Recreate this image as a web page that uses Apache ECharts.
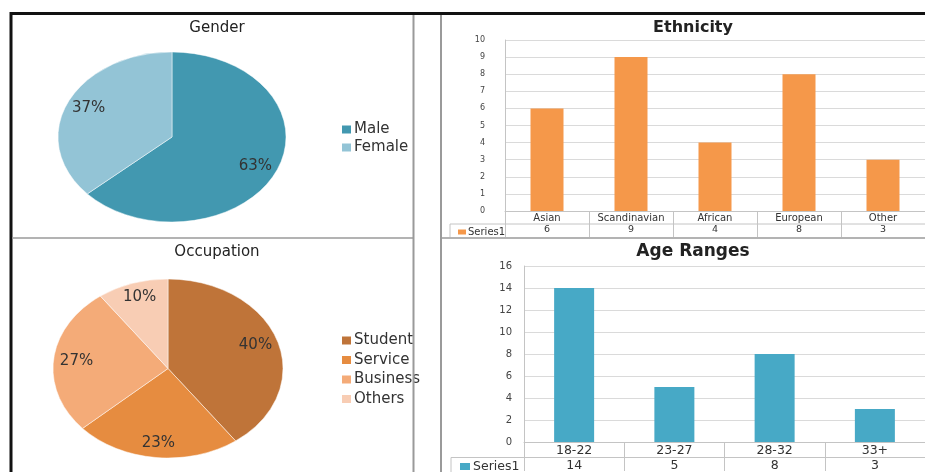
<!DOCTYPE html>
<html><head><meta charset="utf-8">
<script src="https://cdn.jsdelivr.net/npm/echarts@6/dist/echarts.min.js"></script>
<style>html,body{margin:0;padding:0;background:#fff}#c{width:925px;height:472px}</style>
</head><body><div id="c"></div>
<script>
const genderNames = ['Male', 'Female'];
const genderValues = [19, 11];
const genderColors = ['#4298B0', '#93C4D6'];
const occNames = ['Student', 'Service', 'Business', 'Others'];
const occValues = [12, 7, 8, 3];
const occColors = ['#BF7439', '#E68C40', '#F4AB78', '#F8CDB4'];
const ethCats = ['Asian', 'Scandinavian', 'African', 'European', 'Other'];
const ethValues = [6, 9, 4, 8, 3];
const ageCats = ['18-22', '23-27', '28-32', '33+'];
const ageValues = [14, 5, 8, 3];
const seriesName = 'Series1';
const FONT = 'DejaVu Sans';

function ellipsePie(name, names, values, colors, geo) {
  const total = values.reduce((a, b) => a + b, 0);
  return {
    type: 'custom', name: name, coordinateSystem: 'none', silent: true,
    data: values.map((v, i) => ({ name: names[i], value: v })),
    renderItem: function (params, api) {
      const i = params.dataIndex;
      let cum = 0;
      for (let j = 0; j < i; j++) cum += values[j];
      const v = api.value(0);
      const a0 = -Math.PI / 2 + 2 * Math.PI * cum / total;
      const a1 = a0 + 2 * Math.PI * v / total;
      const mid = (a0 + a1) / 2;
      const k = geo.ry / geo.rx;
      return {
        type: 'group', children: [
          { type: 'sector', x: geo.cx, y: geo.cy, scaleY: k,
            shape: { cx: 0, cy: 0, r0: 0, r: geo.rx, startAngle: a0, endAngle: a1, clockwise: true },
            style: { fill: colors[i], stroke: 'rgba(255,255,255,0.7)', lineWidth: 0.8, strokeNoScale: true } },
          { type: 'text', x: geo.cx + 0.8 * geo.rx * Math.cos(mid), y: geo.cy + 0.84 * geo.ry * Math.sin(mid),
            z2: 10,
            style: { text: Math.round(v / total * 100) + '%', align: 'center', verticalAlign: 'middle',
              fontSize: 15, fontFamily: FONT, fill: '#333' } }
        ]
      };
    }
  };
}

function legendPie(names, colors, center) {
  return {
    type: 'pie', radius: [0, 0], center: center, silent: true,
    label: { show: false }, labelLine: { show: false },
    data: names.map((n, i) => ({ name: n, value: 1, itemStyle: { color: colors[i] } }))
  };
}

const chart = echarts.init(document.getElementById('c'));
const gridLine = '#dadada';
const tickCol = '#c4c4c4';

const option = {
  backgroundColor: '#fff',
  animation: false,
  textStyle: { fontFamily: FONT },
  title: [
    { text: 'Gender', left: 212, top: 16, textAlign: 'center', textStyle: { fontSize: 15, fontWeight: 'normal', color: '#222', fontFamily: FONT } },
    { text: 'Occupation', left: 212, top: 240, textAlign: 'center', textStyle: { fontSize: 15, fontWeight: 'normal', color: '#222', fontFamily: FONT } },
    { text: 'Ethnicity', left: 688, top: 15, textAlign: 'center', textStyle: { fontSize: 16, fontWeight: 'bold', color: '#222', fontFamily: FONT } },
    { text: 'Age Ranges', left: 688, top: 238, textAlign: 'center', textStyle: { fontSize: 17, fontWeight: 'bold', color: '#222', fontFamily: FONT } }
  ],
  legend: [
    { orient: 'vertical', left: 337, top: 117, icon: 'rect', itemWidth: 9, itemHeight: 8, itemGap: 3,
      data: genderNames.map((n, i) => ({ name: n, itemStyle: { color: genderColors[i] } })),
      textStyle: { fontSize: 15, color: '#333', fontFamily: FONT, padding: [0, 0, 0, -2] } },
    { orient: 'vertical', left: 337, top: 328, icon: 'rect', itemWidth: 9, itemHeight: 8, itemGap: 4.5,
      data: occNames.map((n, i) => ({ name: n, itemStyle: { color: occColors[i] } })),
      textStyle: { fontSize: 15, color: '#333', fontFamily: FONT, padding: [0, 0, 0, -2] } },
    { left: 453, top: 222, icon: 'rect', itemWidth: 8, itemHeight: 5, selectedMode: false,
      data: [{ name: seriesName, itemStyle: { color: '#F5984A' } }],
      textStyle: { fontSize: 10, color: '#333', fontFamily: FONT, padding: [0, 0, 0, -3] } },
    { left: 455, top: 455, icon: 'rect', itemWidth: 10, itemHeight: 7, selectedMode: false,
      data: [{ name: seriesName, itemStyle: { color: '#47A9C6' } }],
      textStyle: { fontSize: 12.5, color: '#333', fontFamily: FONT, padding: [0, 0, 0, -2] } }
  ],
  grid: [
    { left: 505, top: 40, width: 423, height: 171 },
    { left: 524, top: 266, width: 407, height: 177 }
  ],
  xAxis: [
    { type: 'category', gridIndex: 0, data: ethCats,
      axisLine: { lineStyle: { color: tickCol } },
      axisTick: { show: true, length: 26, lineStyle: { color: tickCol } },
      axisLabel: { margin: 1, interval: 0, color: '#333',
        formatter: function (v, i) { return '{a|' + v + '}\n{b|' + ethValues[i] + '}'; },
        rich: { a: { fontSize: 10, lineHeight: 12, fontFamily: FONT, color: '#333' },
                b: { fontSize: 9.5, lineHeight: 12, fontFamily: FONT, color: '#333' } } } },
    { type: 'category', gridIndex: 1, data: ageCats,
      axisLine: { lineStyle: { color: tickCol } },
      axisTick: { show: true, length: 29, lineStyle: { color: tickCol } },
      axisLabel: { margin: 1, interval: 0, color: '#333',
        formatter: function (v, i) { return '{a|' + v + '}\n{b|' + ageValues[i] + '}'; },
        rich: { a: { fontSize: 12.5, lineHeight: 15, fontFamily: FONT, color: '#333' },
                b: { fontSize: 12.5, lineHeight: 15, fontFamily: FONT, color: '#333' } } } }
  ],
  yAxis: [
    { type: 'value', gridIndex: 0, min: 0, max: 10, interval: 1,
      axisLine: { show: true, lineStyle: { color: tickCol } }, axisTick: { show: false },
      splitLine: { lineStyle: { color: gridLine } },
      axisLabel: { fontSize: 8, margin: 20, color: '#444', fontFamily: FONT } },
    { type: 'value', gridIndex: 1, min: 0, max: 16, interval: 2,
      axisLine: { show: true, lineStyle: { color: tickCol } }, axisTick: { show: false },
      splitLine: { lineStyle: { color: gridLine } },
      axisLabel: { fontSize: 10, margin: 12, color: '#444', fontFamily: FONT } }
  ],
  series: [
    ellipsePie('Gender', genderNames, genderValues, genderColors, { cx: 172, cy: 137, rx: 114, ry: 85 }),
    ellipsePie('Occupation', occNames, occValues, occColors, { cx: 168, cy: 368.5, rx: 115, ry: 89.5 }),
    legendPie(genderNames, genderColors, [172, 137]),
    legendPie(occNames, occColors, [168, 368]),
    { type: 'bar', name: seriesName, xAxisIndex: 0, yAxisIndex: 0, data: ethValues, barWidth: 33,
      itemStyle: { color: '#F5984A' }, silent: true },
    { type: 'bar', name: seriesName, xAxisIndex: 1, yAxisIndex: 1, data: ageValues, barWidth: 40,
      itemStyle: { color: '#47A9C6' }, silent: true }
  ],
  graphic: [
    { type: 'line', shape: { x1: 450, y1: 224, x2: 925, y2: 224 }, style: { stroke: tickCol, lineWidth: 1 }, z: 50 },
    { type: 'line', shape: { x1: 450, y1: 224, x2: 450, y2: 237 }, style: { stroke: tickCol, lineWidth: 1 }, z: 50 },
    { type: 'line', shape: { x1: 451, y1: 457.5, x2: 925, y2: 457.5 }, style: { stroke: tickCol, lineWidth: 1 }, z: 50 },
    { type: 'line', shape: { x1: 451, y1: 457.5, x2: 451, y2: 472 }, style: { stroke: tickCol, lineWidth: 1 }, z: 50 },
    { type: 'line', shape: { x1: 10, y1: 13.5, x2: 925, y2: 13.5 }, style: { stroke: '#111', lineWidth: 3 }, z: 100 },
    { type: 'line', shape: { x1: 11, y1: 12, x2: 11, y2: 472 }, style: { stroke: '#111', lineWidth: 3 }, z: 100 },
    { type: 'line', shape: { x1: 413.5, y1: 15, x2: 413.5, y2: 472 }, style: { stroke: '#9a9a9a', lineWidth: 2 }, z: 100 },
    { type: 'line', shape: { x1: 441, y1: 15, x2: 441, y2: 472 }, style: { stroke: '#9a9a9a', lineWidth: 2 }, z: 100 },
    { type: 'line', shape: { x1: 12, y1: 238, x2: 413, y2: 238 }, style: { stroke: '#9a9a9a', lineWidth: 1.5 }, z: 100 },
    { type: 'line', shape: { x1: 441, y1: 238, x2: 925, y2: 238 }, style: { stroke: '#9a9a9a', lineWidth: 1.5 }, z: 100 }
  ]
};
chart.setOption(option);
</script></body></html>
